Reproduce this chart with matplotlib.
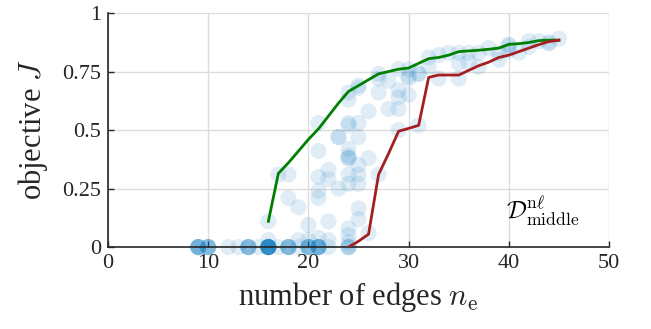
import numpy as np
import matplotlib as mpl
mpl.use('Agg')
import matplotlib.pyplot as plt

plt.rcParams['font.family'] = ['Liberation Serif', 'DejaVu Serif']
plt.rcParams['mathtext.fontset'] = 'cm'

# runs that ended at objective 0 (edge counts, repeated where runs overlap)
zero_x = [9, 9, 9, 9, 9, 9, 10, 10, 10, 10, 10, 12, 13, 14, 14, 14, 14, 14, 15,
          16, 16, 16, 16, 16, 16, 16, 16, 16, 16, 16, 16, 17, 18, 18, 18, 18, 18, 19,
          20, 20, 20, 20, 20, 21, 21, 21, 21, 21, 21, 22, 24, 24, 24]

# remaining runs: number of edges vs objective
edges_x = [16, 16, 17, 18, 18, 19, 19, 20, 20, 21, 21, 21, 21, 21, 21, 22, 22, 22, 22,
           23, 23, 23, 24, 24, 24, 24, 24, 24, 24, 24, 24, 24, 24, 24, 24,
           25, 25, 25, 25, 25, 25, 25, 25, 25, 26, 26, 26, 27, 27, 27, 27,
           28, 28, 29, 29, 29, 29, 29, 30, 30, 30, 30, 31, 31, 31,
           32, 32, 33, 33, 34, 35, 35, 35, 36, 36, 37, 37, 38, 39, 39,
           40, 40, 40, 41, 42, 42, 43, 44, 44, 45]
obj_y = [0.11, 0.03, 0.31, 0.31, 0.21, 0.17, 0.03, 0.095, 0.03, 0.53, 0.41, 0.30, 0.24, 0.21, 0.04,
         0.33, 0.29, 0.11, 0.03,
         0.47, 0.25, 0.47, 0.66, 0.63, 0.53, 0.52, 0.42, 0.39, 0.38, 0.38, 0.31, 0.27, 0.08, 0.05, 0.02,
         0.69, 0.68, 0.53, 0.47, 0.35, 0.31, 0.27, 0.165, 0.12, 0.58, 0.38, 0.06,
         0.74, 0.72, 0.66, 0.31,
         0.71, 0.59, 0.76, 0.67, 0.64, 0.59, 0.50, 0.76, 0.73, 0.72, 0.65, 0.74, 0.74, 0.52,
         0.81, 0.77, 0.82, 0.72, 0.83, 0.83, 0.785, 0.72, 0.83, 0.79, 0.83, 0.77, 0.85,
         0.83, 0.80, 0.865, 0.86, 0.84, 0.83, 0.88, 0.855, 0.88, 0.875, 0.87, 0.89]

# best run per edge count
best_x = [16, 17, 18, 19, 20, 21, 22, 23, 24, 25, 26, 27, 28, 29, 30, 31, 32, 33, 34, 35,
          36, 37, 38, 39, 40, 41, 42, 43, 44, 45]
best_y = [0.11, 0.315, 0.36, 0.41, 0.46, 0.505, 0.56, 0.615, 0.665, 0.69, 0.715, 0.74, 0.75,
          0.76, 0.765, 0.785, 0.805, 0.81, 0.82, 0.835, 0.838, 0.841, 0.845, 0.85, 0.866,
          0.869, 0.874, 0.882, 0.884, 0.884]

# worst run per edge count
worst_x = [24, 25, 26, 27, 28, 29, 30, 31, 32, 33, 34, 35, 36, 37, 38, 39, 40, 41, 42, 43, 44, 45]
worst_y = [0.0, 0.025, 0.055, 0.31, 0.40, 0.495, 0.507, 0.52, 0.725, 0.735, 0.735, 0.735,
           0.755, 0.775, 0.79, 0.81, 0.82, 0.835, 0.85, 0.865, 0.878, 0.884]

fig = plt.figure(figsize=(6.51, 3.29), dpi=100)
ax = fig.add_axes([0.166, 0.249, 0.7695, 0.7115])

ax.scatter(zero_x, [0] * len(zero_x), s=135, color='#0072BD', alpha=0.12, edgecolors='none',
           zorder=2, clip_on=False)
ax.scatter(edges_x, obj_y, s=135, color='#0072BD', alpha=0.12, edgecolors='none',
           zorder=2, clip_on=False)
ax.plot(best_x, best_y, color='#008000', lw=2, zorder=3)
ax.plot(worst_x, worst_y, color='#A51E22', lw=2, zorder=3)

ax.set_xlim(0, 50)
ax.set_ylim(0, 1)
ax.set_xticks([0, 10, 20, 30, 40, 50])
ax.set_yticks([0, 0.25, 0.5, 0.75, 1])
ax.set_yticklabels(['0', '0.25', '0.5', '0.75', '1'])
ax.grid(True, color='#dcdcdc', lw=1)
ax.set_axisbelow(True)
for s in ['top', 'right']:
    ax.spines[s].set_visible(False)
for s in ['left', 'bottom']:
    ax.spines[s].set_color('#262626')
    ax.spines[s].set_linewidth(1.2)
ax.tick_params(direction='in', length=4, width=1, colors='#262626', labelsize=16, pad=5)

ax.set_xlabel(r'number of edges $n_\mathrm{e}$', fontsize=22, labelpad=5, color='#262626')
ax.set_ylabel(r'objective $J$', fontsize=22, labelpad=9, color='#262626')

ax.text(39.7, 0.12, r'$\mathcal{D}^{\mathrm{n}\ell}_{\mathrm{middle}}$', fontsize=18,
        color='black')

fig.savefig('out.png', dpi=100)
